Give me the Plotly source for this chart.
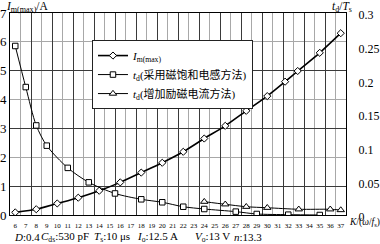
import plotly.graph_objects as go

# ---- data ----
K_im = [6, 8, 10, 12, 14, 16, 18, 20, 22, 24, 26, 28, 30, 31.7, 32.9, 35, 37]
Im_max = [0.09, 0.2, 0.4, 0.6, 0.84, 1.13, 1.47, 1.81, 2.19, 2.65, 3.09, 3.61,
          4.12, 4.62, 4.99, 5.62, 6.3]

K_sat = [6, 7, 8, 9, 11, 13, 15.5, 18, 20, 22, 24, 27, 29, 32, 35]
td_sat = [0.251, 0.190, 0.133, 0.103, 0.070, 0.0485, 0.032, 0.0233, 0.0189,
          0.0123, 0.0089, 0.005, 0.0015, 0.0005, 0.0]

K_exc = [24, 26, 28, 30, 33, 36, 37]
td_exc = [0.0198, 0.0159, 0.0123, 0.0108, 0.0085, 0.0085, 0.0074]

k_ticks = list(range(6, 38))
k_ticktext = [str(k) for k in k_ticks]
left_ticks = [0, 1, 2, 3, 4, 5, 6, 7]
right_ticks = [0, 0.05, 0.1, 0.15, 0.2, 0.25, 0.3]
right_ticktext = ["0", "0.05", "0.1", "0.15", "0.2", "0.25", "0.3"]

param_texts = ["<i>D</i>:0.4", "<i>C</i><sub>ds</sub>:530 pF",
               "<i>T</i><sub>s</sub>:10 μs", "<i>I</i><sub>o</sub>:12.5 A",
               "<i>V</i><sub>o</sub>:13 V", "<i>n</i>:13.3"]

grid_x_light = [k + 0.5 for k in range(6, 37, 2)]
grid_x_dark = [k + 0.5 for k in range(7, 36, 2)]
grid_y_light = [2, 4, 6]
grid_y_dark = [1, 3, 5]

SERIF = "Liberation Serif, Times New Roman, serif"
SERIF_CJK = "Liberation Serif, Noto Sans CJK SC, serif"
DARK = "#3a3a3a"
LIGHT = "#a8a8a8"

fig = go.Figure()

fig.add_trace(go.Scatter(
    x=K_im, y=Im_max, mode="lines+markers", name="<i>I</i><sub>m(max)</sub>",
    line=dict(color="black", width=1.6, shape="spline", smoothing=0.6),
    marker=dict(symbol="diamond", size=5.5, color="white",
                line=dict(color="black", width=1)),
    xaxis="x", yaxis="y"))

fig.add_trace(go.Scatter(
    x=K_sat, y=td_sat, mode="lines+markers",
    name="<i>t</i><sub>d</sub>(采用磁饱和电感方法)",
    line=dict(color="black", width=1, shape="spline", smoothing=0.8),
    marker=dict(symbol="square", size=5.5, color="white",
                line=dict(color="black", width=1)),
    xaxis="x", yaxis="y2"))

fig.add_trace(go.Scatter(
    x=K_exc, y=td_exc, mode="lines+markers",
    name="<i>t</i><sub>d</sub>(增加励磁电流方法)",
    line=dict(color="black", width=1, shape="spline", smoothing=0.8),
    marker=dict(symbol="triangle-up", size=6.5, color="white",
                line=dict(color="black", width=1)),
    xaxis="x", yaxis="y2"))

# empty trace to hold the overlay grid axes
fig.add_trace(go.Scatter(x=[], y=[], xaxis="x3", yaxis="y3",
                         showlegend=False, hoverinfo="skip"))

fig.update_layout(
    width=380, height=244,
    margin=dict(l=10, r=34, t=13, b=29),
    paper_bgcolor="white", plot_bgcolor="white",
    font=dict(family=SERIF, color="black", size=12),
    showlegend=True,
    legend=dict(x=0.244, y=0.866, xanchor="left", yanchor="top",
                bgcolor="white", bordercolor="#222", borderwidth=1,
                font=dict(family=SERIF_CJK, size=11, color="black"),
                itemwidth=30, tracegroupgap=0),
    xaxis=dict(range=[5.5, 37.5], tickmode="array", tickvals=k_ticks,
               ticktext=k_ticktext, tickfont=dict(size=7, family=SERIF),
               ticks="outside", ticklen=4, tickcolor="rgba(0,0,0,0)",
               showgrid=False, zeroline=False,
               showline=True, linecolor="black", linewidth=1, mirror=True,
               minor=dict(tickmode="array", tickvals=grid_x_light,
                          showgrid=True, gridcolor=LIGHT, gridwidth=1,
                          ticks=""),
               automargin=False),
    yaxis=dict(range=[0, 7], tickmode="array", tickvals=left_ticks,
               ticktext=[str(v) for v in left_ticks],
               tickfont=dict(size=13, family=SERIF),
               ticks="", showgrid=False, zeroline=False,
               showline=True, linecolor="black", linewidth=1, mirror=True,
               minor=dict(tickmode="array", tickvals=grid_y_light,
                          showgrid=True, gridcolor=LIGHT, gridwidth=1,
                          ticks=""),
               automargin=False),
    yaxis2=dict(range=[0, 0.3], overlaying="y", side="right",
                tickmode="array", tickvals=right_ticks, ticktext=right_ticktext,
                tickfont=dict(size=12, family=SERIF),
                ticks="outside", ticklen=9, tickcolor="rgba(0,0,0,0)",
                ticklabelshift=2,
                showgrid=False, zeroline=False, showline=False,
                automargin=False),
    xaxis3=dict(range=[5.5, 37.5], overlaying="x", anchor="y3",
                tickmode="array", tickvals=grid_x_dark,
                showgrid=True, gridcolor=DARK, gridwidth=1,
                showticklabels=False, ticks="", zeroline=False,
                showline=False, automargin=False),
    yaxis3=dict(range=[0, 7], overlaying="y", anchor="x3",
                tickmode="array", tickvals=grid_y_dark,
                showgrid=True, gridcolor=DARK, gridwidth=1,
                showticklabels=False, ticks="", zeroline=False,
                showline=False, automargin=False),
)

annotations = [
    dict(text="<i>I</i><sub>m(max)</sub>/A", x=-0.018, y=1.03,
         xanchor="left", yanchor="middle", font=dict(size=11.5)),
    dict(text="<i>t</i><sub>d</sub>/<i>T</i><sub>s</sub>", x=1.024, y=1.03,
         xanchor="right", yanchor="middle", font=dict(size=11.5)),
    dict(text="<i>K</i>/(<i>ω</i>/<i>f</i><sub>s</sub>)", x=1.003, y=-0.035,
         xanchor="left", yanchor="middle", font=dict(size=9.5)),
]
# bottom parameter line, pieces placed like the reference
param_x_px = [12, 39, 92, 135, 193, 232]
for t, px in zip(param_texts, param_x_px):
    annotations.append(dict(text=t, x=(px - 10) / 336, y=-0.107,
                            xanchor="left", yanchor="middle",
                            font=dict(size=11)))
for a in annotations:
    a.update(xref="paper", yref="paper", showarrow=False)
fig.update_layout(annotations=annotations)

fig.write_html("out.html")
